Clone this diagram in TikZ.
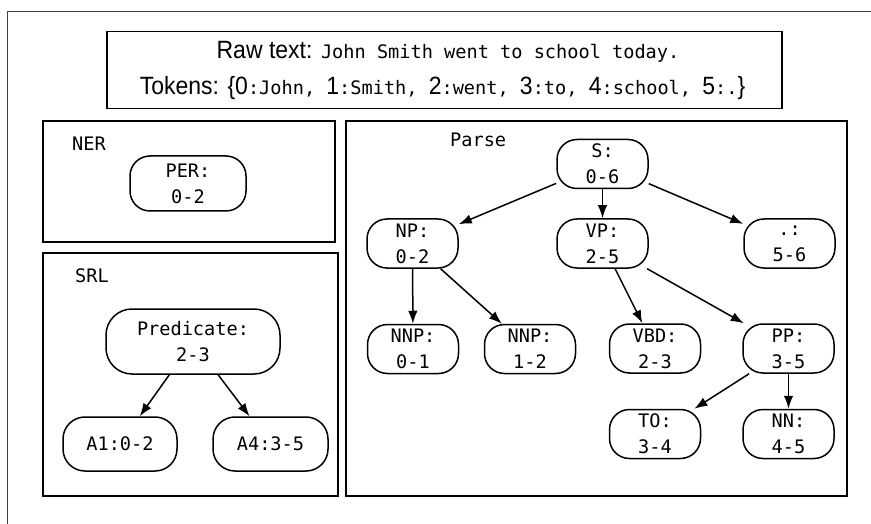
\documentclass[tikz,border=0pt]{standalone}
\usepackage{fontspec}
\usetikzlibrary{arrows.meta}
\newfontfamily\monofont{DejaVu Sans Mono}
\newfontfamily\headfont[FakeStretch=0.92]{Liberation Sans}
\newcommand\nodefont{\monofont\fontsize{18.6}{26}\selectfont}
\newcommand\headtext{\headfont\fontsize{25}{30}\selectfont}
\newcommand\tokmono[1]{{\nodefont#1}}
\begin{document}
\begin{tikzpicture}[x=1pt,y=-1pt,
  panel/.style={draw, line width=1.5pt, inner sep=0pt},
  tnode/.style={draw, line width=1.5pt, rounded corners=20pt, inner sep=0pt,
    minimum width=91pt, minimum height=49pt, align=center, font=\nodefont},
  paneltitle/.style={anchor=base west, inner sep=0pt, font=\nodefont},
  edge/.style={line width=1.5pt, -{Latex[length=13pt,width=9.5pt]}}]
\useasboundingbox (0,0) rectangle (871,524);

% outer frame (only top and left edges fall inside the page)
\draw[line width=0.9pt, black!75] (7,524) -- (7,11) -- (871,11);

% header box with raw text and tokens
\node[panel, minimum width=675pt, minimum height=77pt] (header) at (444.5,70) {};
\node[anchor=base, inner sep=0pt] (rawtext) at (448,59)
  {\headtext Raw text: \tokmono{John Smith went to school today.}};
\node[anchor=base, inner sep=0pt] (tokens) at (442.5,95)
  {\headtext Tokens: \{0\tokmono{:John, }1\tokmono{:Smith, }2\tokmono{:went, }3\tokmono{:to, }4\tokmono{:school, }5\tokmono{:.}\}};

% panels
\node[panel, minimum width=292pt, minimum height=121pt] (nerbox) at (189,181.5) {};
\node[panel, minimum width=295pt, minimum height=243pt] (srlbox) at (190.5,374.5) {};
\node[panel, minimum width=501pt, minimum height=375pt] (parsebox) at (596.5,308.5) {};

\node[paneltitle] (nertitle) at (72,151) {NER};
\node[paneltitle] (srltitle) at (75,282) {SRL};
\node[paneltitle] (parsetitle) at (450,147) {Parse};

% NER
\node[tnode, minimum width=116pt, minimum height=55pt] (per) at (188,183.5) {PER:\\0-2};

% SRL
\node[tnode, minimum width=174pt, minimum height=65pt, rounded corners=26pt] (pred) at (193,341.5) {Predicate:\\2-3};
\node[tnode, minimum width=114pt, minimum height=54pt, rounded corners=22pt] (aone) at (120,444) {A1:0-2};
\node[tnode, minimum width=115pt, minimum height=54pt, rounded corners=22pt] (afour) at (270.5,444) {A4:3-5};

% parse tree
\node[tnode] (s) at (602.5,164) {S:\\0-6};
\node[tnode] (np) at (412.5,243.5) {NP:\\0-2};
\node[tnode] (vp) at (602.5,243.5) {VP:\\2-5};
\node[tnode] (dot) at (789.5,243.5) {.:\\5-6};
\node[tnode] (nnpa) at (413,349) {NNP:\\0-1};
\node[tnode] (nnpb) at (530,349) {NNP:\\1-2};
\node[tnode] (vbd) at (655,348.5) {VBD:\\2-3};
\node[tnode] (pp) at (788.5,348.5) {PP:\\3-5};
\node[tnode] (to) at (655,434) {TO:\\3-4};
\node[tnode] (nn) at (788.5,434) {NN:\\4-5};

% connectors
\draw[edge] (pred) -- (aone);
\draw[edge] (pred) -- (afour);
\draw[edge] (s) -- (np);
\draw[edge] (s) -- (vp);
\draw[edge] (s) -- (dot);
\draw[edge] (np) -- (nnpa);
\draw[edge] (np) -- (nnpb);
\draw[edge] (vp) -- (vbd);
\draw[edge] (vp) -- (pp);
\draw[edge] (pp) -- (to);
\draw[edge] (pp) -- (nn);
\end{tikzpicture}
\end{document}
